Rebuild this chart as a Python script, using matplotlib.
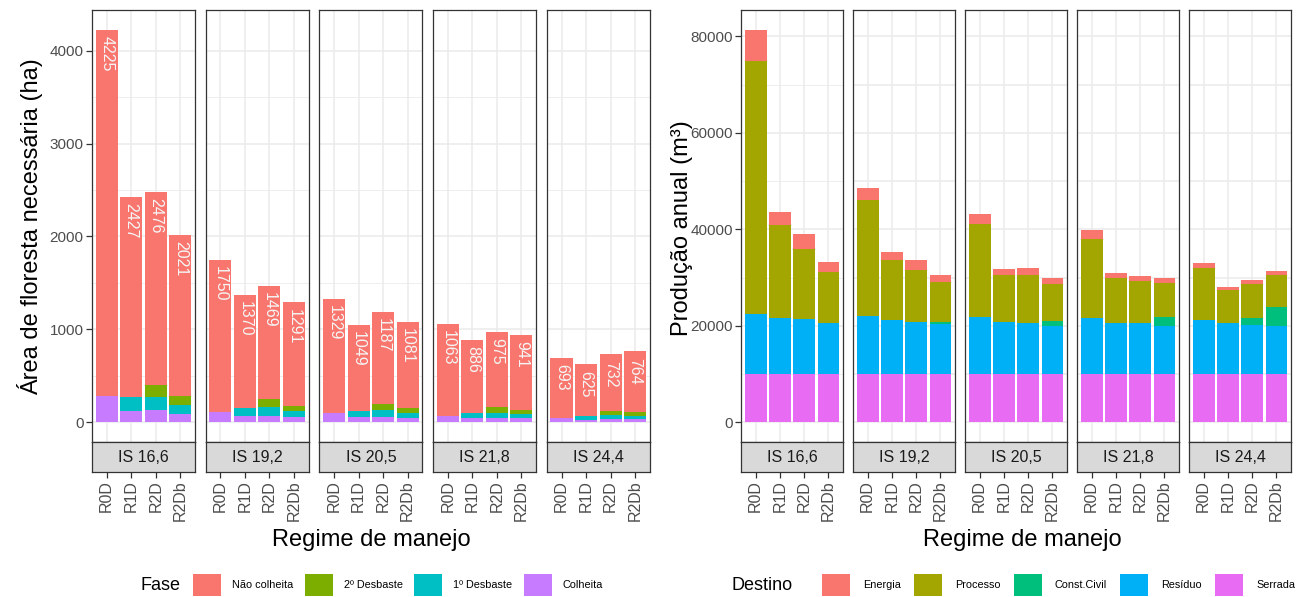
import numpy as np
import matplotlib
matplotlib.use('Agg')
import matplotlib.pyplot as plt
from matplotlib.patches import Patch
from matplotlib.ticker import MultipleLocator

plt.rcParams['font.family'] = ['Liberation Sans', 'DejaVu Sans']

# dados
facetas = ['IS 16,6', 'IS 19,2', 'IS 20,5', 'IS 21,8', 'IS 24,4']
regimes = ['R0D', 'R1D', 'R2D', 'R2Db']

# area (ha) - total rotulado e fases
area_total = [[4225, 2427, 2476, 2021],
              [1750, 1370, 1469, 1291],
              [1329, 1049, 1187, 1081],
              [1063, 886, 975, 941],
              [693, 625, 732, 764]]
colheita = [[285, 123, 130, 94],
            [112, 69, 69, 58],
            [98, 54, 61, 50],
            [72, 50, 50, 43],
            [50, 25, 36, 36]]
desbaste1 = [[0, 145, 138, 98],
             [0, 87, 91, 62],
             [0, 66, 73, 54],
             [0, 54, 54, 47],
             [0, 47, 41, 36]]
desbaste2 = [[0, 0, 137, 94],
             [0, 0, 87, 58],
             [0, 0, 65, 54],
             [0, 0, 56, 44],
             [0, 0, 43, 40]]

# producao anual (m3) por destino
serrada = [[10000, 10000, 10000, 10000]] * 5
residuo = [[12480, 11700, 11360, 10660],
           [12050, 11150, 10800, 10400],
           [11920, 10800, 10520, 9960],
           [11700, 10670, 10520, 9960],
           [11210, 10670, 10100, 9960]]
const_civil = [[0, 0, 0, 0],
               [0, 0, 0, 300],
               [0, 0, 0, 1040],
               [0, 0, 0, 1960],
               [0, 0, 1470, 4040]]
processo = [[52470, 19130, 14610, 10440],
            [24000, 12590, 10850, 8320],
            [19270, 9800, 10080, 7730],
            [16360, 9180, 8710, 6950],
            [10730, 6680, 7090, 6540]]
energia = [[6450, 2800, 3130, 2220],
           [2450, 1660, 2020, 1540],
           [1940, 1200, 1340, 1250],
           [1740, 1170, 1170, 1110],
           [1110, 750, 900, 840]]

area_total = np.array(area_total)
colheita = np.array(colheita)
desbaste1 = np.array(desbaste1)
desbaste2 = np.array(desbaste2)
nao_colheita = area_total - colheita - desbaste1 - desbaste2

fases = [('Colheita', colheita, '#C77CFF'),
         ('1º Desbaste', desbaste1, '#00BFC4'),
         ('2º Desbaste', desbaste2, '#7CAE00'),
         ('Não colheita', nao_colheita, '#F8766D')]
destinos = [('Serrada', np.array(serrada), '#E76BF3'),
            ('Resíduo', np.array(residuo), '#00B0F6'),
            ('Const.Civil', np.array(const_civil), '#00BF7D'),
            ('Processo', np.array(processo), '#A3A500'),
            ('Energia', np.array(energia), '#F8766D')]

W, H = 1298, 597
fig = plt.figure(figsize=(W / 100, H / 100), dpi=100)

grey20 = '#333333'
grey30 = '#4D4D4D'


def painel(x0, w, ylim, minor):
    ax = fig.add_axes([x0 / W, 1 - 442 / H, w / W, 432 / H])
    st = fig.add_axes([x0 / W, 1 - 472 / H, w / W, 30 / H])
    ax.set_xlim(0.4, 4.6)
    ax.set_ylim(ylim)
    st.set_xlim(0.4, 4.6)
    ax.set_xticks(range(1, 5))
    ax.yaxis.set_minor_locator(MultipleLocator(minor))
    ax.grid(which='major', color='#EBEBEB', lw=1.1)
    ax.grid(which='minor', axis='y', color='#EBEBEB', lw=0.6)
    ax.set_axisbelow(True)
    ax.tick_params(axis='x', length=0, labelbottom=False)
    ax.tick_params(axis='y', which='minor', length=0)
    for s in ax.spines.values():
        s.set_color(grey20)
        s.set_linewidth(0.9)
    st.set_facecolor('#D9D9D9')
    for s in st.spines.values():
        s.set_color(grey20)
        s.set_linewidth(0.9)
    st.set_yticks([])
    st.set_xticks(range(1, 5))
    st.set_xticklabels(regimes, rotation=90, fontsize=11.5, color=grey30)
    st.tick_params(axis='x', length=4, width=0.9, color=grey20, pad=2)
    return ax, st


x = np.arange(1, 5)

# grafico da esquerda: area
ymax = area_total.max()
for i, f in enumerate(facetas):
    ax, st = painel(92 + i * 113.7, 103, (-0.05 * ymax, 1.05 * ymax), 500)
    base = np.zeros(4)
    for nome, v, cor in fases:
        ax.bar(x, v[i], 0.9, bottom=base, color=cor, lw=0)
        base = base + v[i]
    for xi, t in zip(x, area_total[i]):
        ax.annotate(str(t), xy=(xi, t), xytext=(0, -4.5), textcoords='offset points',
                    rotation=270, rotation_mode='anchor', ha='left', va='center',
                    color='#F5F5F5', fontsize=11.5)
    st.text(2.5, 0.5, f, ha='center', va='center', fontsize=11.5, color='#1A1A1A',
            transform=st.get_xaxis_transform())
    if i == 0:
        ax.set_yticks([0, 1000, 2000, 3000, 4000])
        ax.tick_params(axis='y', length=4, width=0.9, color=grey20, labelsize=11,
                       labelcolor=grey30, pad=2)
    else:
        ax.tick_params(axis='y', which='both', length=0, labelleft=False)

# grafico da direita: producao
tot = sum(d[1] for d in destinos)
ymax2 = tot.max()
for i, f in enumerate(facetas):
    ax, st = painel(741 + i * 112, 102, (-0.05 * ymax2, 1.05 * ymax2), 10000)
    base = np.zeros(4)
    for nome, v, cor in destinos:
        ax.bar(x, v[i], 0.9, bottom=base, color=cor, lw=0)
        base = base + v[i]
    st.text(2.5, 0.5, f, ha='center', va='center', fontsize=11.5, color='#1A1A1A',
            transform=st.get_xaxis_transform())
    if i == 0:
        ax.set_yticks([0, 20000, 40000, 60000, 80000])
        ax.tick_params(axis='y', length=4, width=0.9, color=grey20, labelsize=11,
                       labelcolor=grey30, pad=2)
    else:
        ax.tick_params(axis='y', which='both', length=0, labelleft=False)

# titulos dos eixos
fig.text(30 / W, 1 - 227 / H, 'Área de floresta necessária (ha)', rotation=90,
         ha='center', va='center', fontsize=17)
fig.text(682 / W, 1 - 228 / H, 'Produção anual (m³)', rotation=90,
         ha='center', va='center', fontsize=17)
fig.text(371 / W, 1 - 540 / H, 'Regime de manejo', ha='center', va='center', fontsize=17)
fig.text(1022 / W, 1 - 540 / H, 'Regime de manejo', ha='center', va='center', fontsize=17)

# legendas
h1 = [Patch(fc=c, ec='none') for n, v, c in fases[::-1]]
fig.legend(h1, [n for n, v, c in fases[::-1]], loc='center left',
           bbox_to_anchor=(193 / W, 1 - 585 / H), ncol=4, frameon=False, fontsize=7.8,
           handlelength=2.6, handleheight=2.8, handletextpad=1.0, columnspacing=1.05,
           borderpad=0, borderaxespad=0)
fig.text(161 / W, 1 - 585 / H, 'Fase', ha='center', va='center', fontsize=13)

h2 = [Patch(fc=c, ec='none') for n, v, c in destinos[::-1]]
fig.legend(h2, [n for n, v, c in destinos[::-1]], loc='center left',
           bbox_to_anchor=(822 / W, 1 - 585 / H), ncol=5, frameon=False, fontsize=7.8,
           handlelength=2.6, handleheight=2.8, handletextpad=1.2, columnspacing=1.2,
           borderpad=0, borderaxespad=0)
fig.text(762 / W, 1 - 585 / H, 'Destino', ha='center', va='center', fontsize=13)

fig.savefig('out.png', dpi=100)
